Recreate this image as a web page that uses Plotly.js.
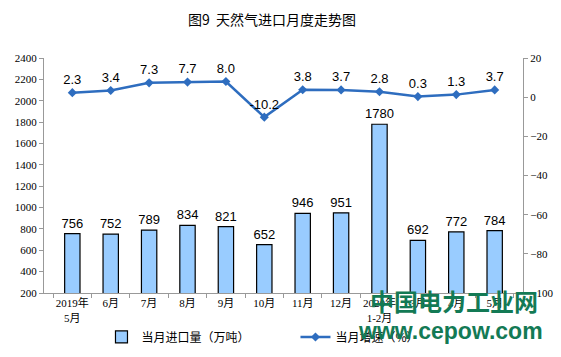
<!DOCTYPE html>
<html><head><meta charset="utf-8">
<script src="https://cdn.plot.ly/plotly-3.0.1.min.js"></script>
<style>html,body{margin:0;padding:0;background:#fff}#c{width:561px;height:357px}</style>
</head><body><div id="c"></div>
<script>
const categories = ["2019年<br>5月","6月","7月","8月","9月","10月","11月","12月","2020年<br>1-2月","3月","4月","5月"];
const importVolume = [756,752,789,834,821,652,946,951,1780,692,772,784];
const growthRate = [2.3,3.4,7.3,7.7,8.0,-10.2,3.8,3.7,2.8,0.3,1.3,3.7];
const growthLabels = growthRate.map(v => v.toFixed(1));

const tickFont = {family: "Liberation Serif, Noto Sans CJK SC, serif", size: 11, color: "#000"};
const labelFont = {family: "Liberation Sans, Arial, sans-serif", size: 13, color: "#000"};
const legendFont = {family: "Noto Sans CJK SC, sans-serif", size: 12, color: "#000"};
const traces = [
  {type: "bar", x: categories, y: importVolume, name: "当月进口量（万吨）", legend: "legend",
   marker: {color: "#99CCFF", line: {color: "#000", width: 1.2}},
   text: importVolume.map(String), textposition: "outside", cliponaxis: false,
   constraintext: "none", textfont: labelFont,
   width: 0.4, hoverinfo: "none"},
  {type: "scatter", mode: "lines+markers+text", x: categories, y: growthRate, yaxis: "y2",
   name: "当月增速（%）", legend: "legend2", line: {color: "#2E6DBF", width: 2.5},
   marker: {symbol: "diamond", size: 7, color: "#2E6DBF"},
   text: growthLabels, textposition: "top center", cliponaxis: false,
   textfont: labelFont, hoverinfo: "none"}
];
const layout = {
  width: 561, height: 357,
  margin: {l: 44, r: 38, t: 58, b: 64, autoexpand: false},
  paper_bgcolor: "#fff", plot_bgcolor: "#fff",
  title: {text: "图9  天然气进口月度走势图", x: 0.485, xanchor: "center", y: 0.945, yanchor: "middle",
          font: {family: "Noto Sans CJK SC, sans-serif", size: 14, color: "#000"}},
  showlegend: true,
  legend: {orientation: "h", x: 0.12, xanchor: "left", y: -0.187, yanchor: "middle",
           font: legendFont, bgcolor: "rgba(0,0,0,0)", itemwidth: 30},
  legend2: {orientation: "h", x: 0.525, xanchor: "left", y: -0.187, yanchor: "middle",
           font: legendFont, bgcolor: "rgba(0,0,0,0)", itemwidth: 30},
  xaxis: {type: "category", showline: true, linecolor: "#999", linewidth: 1, automargin: false,
          ticks: "outside", tickson: "boundaries", ticklen: 4, tickcolor: "#999",
          showgrid: false, tickfont: tickFont, tickangle: 0},
  yaxis: {range: [200, 2400], dtick: 200, showline: true, linecolor: "#999", linewidth: 1, automargin: false,
          ticks: "outside", ticklen: 4, tickcolor: "#999", showgrid: false, zeroline: false,
          tickfont: tickFont},
  yaxis2: {range: [-100, 20], dtick: 20, overlaying: "y", side: "right", showline: true, automargin: false,
           linecolor: "#999", linewidth: 1, ticks: "outside", ticklen: 4, tickcolor: "#999",
           showgrid: false, zeroline: false, tickfont: tickFont},
  annotations: [
    {text: "中国电力工业网", xref: "paper", yref: "paper", x: 1.035, y: -0.03, xanchor: "right", yanchor: "middle",
     showarrow: false, font: {family: "Noto Sans CJK SC, sans-serif", size: 24, color: "#137A55", weight: "bold"}},
    {text: "www.cepow.com", xref: "paper", yref: "paper", x: 1.045, y: -0.16, xanchor: "right", yanchor: "middle",
     showarrow: false, font: {family: "Liberation Sans, Arial, sans-serif", size: 23, color: "#137A55", weight: "bold"}}
  ]
};
Plotly.newPlot("c", traces, layout, {staticPlot: true, displayModeBar: false});
</script></body></html>
